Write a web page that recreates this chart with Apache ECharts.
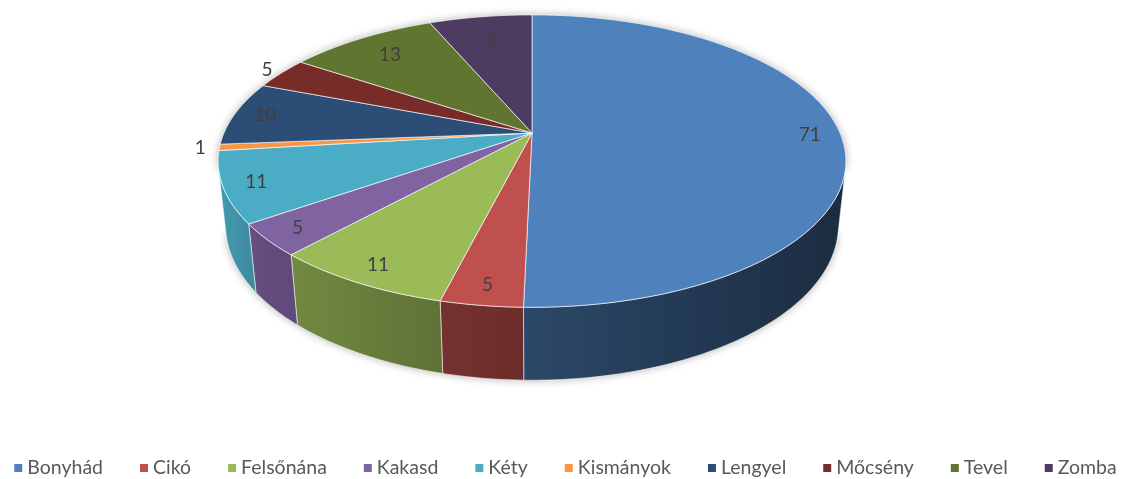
<!DOCTYPE html>
<html>
<head>
<meta charset="utf-8">
<script src="https://cdn.jsdelivr.net/npm/echarts@6/dist/echarts.min.js"></script>
<style>
html, body { margin: 0; padding: 0; background: #fff; }
#chart { width: 1131px; height: 479px; }
</style>
</head>
<body>
<div id="chart"></div>
<script>
// villages and their counts, clockwise from 12 o'clock
const towns = ["Bonyhád", "Cikó", "Felsőnána", "Kakasd", "Kéty", "Kismányok", "Lengyel", "Mőcsény", "Tevel", "Zomba"];
const counts = [71, 5, 11, 5, 11, 1, 10, 5, 13, 9];
const colors = ["#4F81BD", "#C0504D", "#9BBB59", "#8064A2", "#4BACC6", "#F79646", "#2C4D75", "#772C2A", "#5F7530", "#4D3B62"];

// camera for the fake 3d pie
const view = { cx: 532, cy: 133, phi: 27.2 * Math.PI / 180, R: 0.216, f: 1426, h: 0.051 };

const total = counts.reduce((a, b) => a + b, 0);
let acc = 0;
const slices = counts.map(v => {
  const a0 = acc / total * 360;
  acc += v;
  return [a0, acc / total * 360];
});

function project(deg, rho, yw) {
  const t = deg * Math.PI / 180;
  const x = rho * view.R * Math.sin(t);
  const z = rho * view.R * Math.cos(t);
  const c = Math.cos(view.phi), s = Math.sin(view.phi);
  const y2 = yw * c + z * s;
  const z2 = -yw * s + z * c + 1;
  return [view.cx + view.f * x / z2, view.cy - view.f * y2 / z2];
}

// front side is visible between these angles
const visA = Math.acos(-view.R / Math.cos(view.phi)) * 180 / Math.PI;
const visB = 360 - visA;

function arc(a0, a1, rho, yw) {
  const pts = [];
  const n = Math.max(2, Math.ceil(Math.abs(a1 - a0)));
  for (let i = 0; i <= n; i++) pts.push(project(a0 + (a1 - a0) * i / n, rho, yw));
  return pts;
}

function shade(hex, k) {
  const n = parseInt(hex.slice(1), 16);
  const r = Math.round(((n >> 16) & 255) * k), g = Math.round(((n >> 8) & 255) * k), b = Math.round((n & 255) * k);
  return "rgb(" + r + "," + g + "," + b + ")";
}
function sideK(deg) {
  const t = Math.min(1, Math.max(0, (deg - visA) / (visB - visA)));
  return 0.34 + 0.56 * Math.pow(t, 1.4);
}

function labelPos(i) {
  const [a0, a1] = slices[i];
  const mid = (a0 + a1) / 2;
  const p0 = project(a0, 0.9, 0), p1 = project(a1, 0.9, 0);
  const chord = Math.hypot(p0[0] - p1[0], p0[1] - p1[1]);
  if (chord < 43) return project(mid, 1.06, 0);
  const c = Math.max(0, Math.cos(mid * Math.PI / 180));
  return project(mid, 0.9 - 0.15 * c * c, 0);
}

function renderItem(params, api) {
  const i = params.dataIndex;
  const [a0, a1] = slices[i];
  const kids = [];
  if (i === 0) {
    // soft shadow around the whole disc
    const outline = arc(visB, 360 + visA, 1, 0).concat(arc(visA, visB, 1, -view.h).reverse());
    kids.push({ type: "polygon", z2: 0, shape: { points: outline },
      style: { fill: "#ccc", shadowBlur: 8, shadowColor: "rgba(0,0,0,0.3)" } });
  }
  const top = [project(0, 0, 0)].concat(arc(a0, a1, 1, 0));
  kids.push({ type: "polygon", z2: 10, shape: { points: top },
    style: { fill: colors[i], stroke: "rgba(255,255,255,0.65)", lineWidth: 1, lineJoin: "round" } });
  const s0 = Math.max(a0, visA), s1 = Math.min(a1, visB);
  if (s1 > s0) {
    const pts = arc(s0, s1, 1, 0).concat(arc(s0, s1, 1, -view.h).reverse());
    kids.push({ type: "polygon", z2: 5, shape: { points: pts },
      style: {
        fill: new echarts.graphic.LinearGradient(0, 0, 1, 0, [
          { offset: 0, color: shade(colors[i], sideK(s1)) },
          { offset: 1, color: shade(colors[i], sideK(s0)) }
        ]),
        stroke: "rgba(255,255,255,0.55)", lineWidth: 1
      } });
  }
  const lp = labelPos(i);
  kids.push({ type: "text", z2: 30, x: lp[0], y: lp[1],
    style: { text: String(api.value(1)), fill: "#404040", fontSize: 19, fontFamily: "Lato",
      align: "center", verticalAlign: "middle" } });
  return { type: "group", children: kids };
}

const chart = echarts.init(document.getElementById("chart"));
chart.setOption({
  animation: false,
  color: colors,
  legend: {
    left: "center",
    bottom: -4,
    width: 1131,
    icon: "rect",
    itemWidth: 8,
    itemHeight: 8,
    itemGap: 37,
    textStyle: { fontSize: 19.5, color: "#595959", fontFamily: "Lato" },
    data: towns
  },
  series: [
    {
      type: "pie",
      radius: [0, 0],
      silent: true,
      label: { show: false },
      labelLine: { show: false },
      data: towns.map((n, i) => ({ name: n, value: counts[i] }))
    },
    {
      type: "custom",
      coordinateSystem: "none",
      silent: true,
      renderItem: renderItem,
      data: counts.map((v, i) => [i, v])
    }
  ]
});
</script>
</body>
</html>
